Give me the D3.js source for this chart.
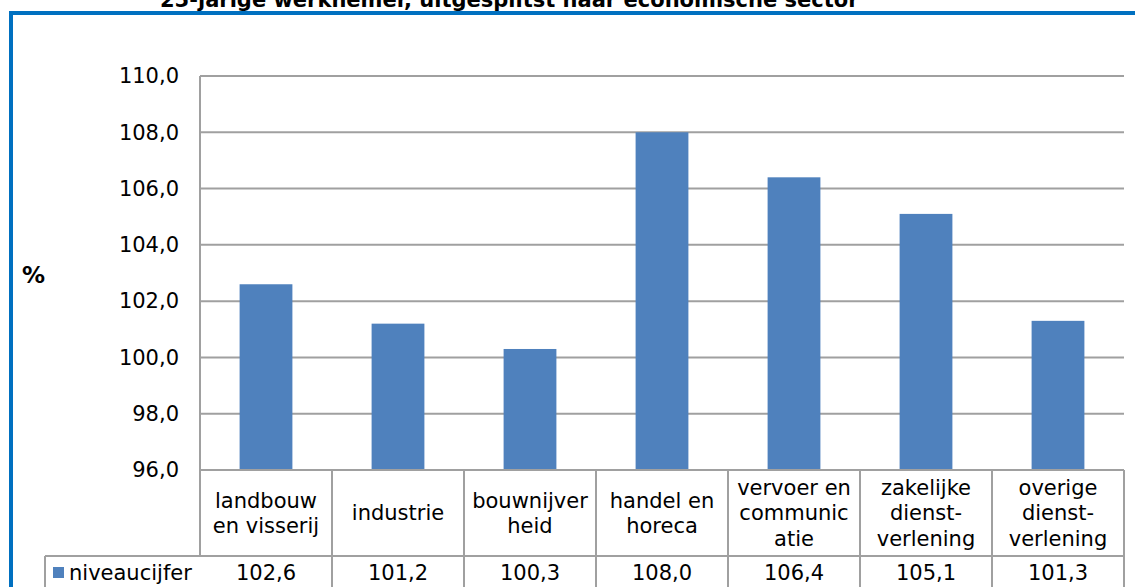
<!DOCTYPE html>
<html>
<head>
<meta charset="utf-8">
<script src="https://cdn.jsdelivr.net/npm/d3@7"></script>
<style>
  body { margin: 0; background: #fff; }
  svg { display: block; font-family: "DejaVu Sans", Verdana, sans-serif; }
</style>
</head>
<body>
<div id="chart"></div>
<script>
const categories = [
    ["landbouw", "en visserij"],
    ["industrie"],
    ["bouwnijver", "heid"],
    ["handel en", "horeca"],
    ["vervoer en", "communic", "atie"],
    ["zakelijke", "dienst-", "verlening"],
    ["overige", "dienst-", "verlening"]
];
const values = [102.6, 101.2, 100.3, 108.0, 106.4, 105.1, 101.3];
const seriesName = "niveaucijfer";
const yTicks = [96, 98, 100, 102, 104, 106, 108, 110];
const title = "25-jarige werknemer, uitgesplitst naar economische sector";

const width = 1135;
const height = 587;
const plot = { left: 200, right: 1124, top: 76, bottom: 470 };
const catRowBottom = 556;
const valRowBottom = 590;
const legendLeft = 45;
const gridColor = "#a0a0a0";
const barColor = "#4f81bd";
const fontSize = "21px";

const svg = d3.select("#chart")
    .append("svg")
    .attr("width", width)
    .attr("height", height);

// outer blue frame (partly off the page)
svg.append("rect")
    .attr("x", 11)
    .attr("y", 13)
    .attr("width", width + 20)
    .attr("height", height + 20)
    .attr("fill", "none")
    .attr("stroke", "#0070c0")
    .attr("stroke-width", 4);

// title, cut off at the top like in the source
svg.append("text")
    .attr("x", 160)
    .attr("y", 7)
    .attr("font-size", "21px")
    .attr("font-weight", "bold")
    .text(title);

const keys = categories.map(c => c.join(" "));

const xScale = d3.scaleBand()
    .domain(keys)
    .range([plot.left, plot.right])
    .paddingInner(0.6)
    .paddingOuter(0.3);

const yScale = d3.scaleLinear()
    .domain([96, 110])
    .range([plot.bottom, plot.top]);

// gridlines
svg.append("g")
    .selectAll("line")
    .data(yTicks)
    .join("line")
    .attr("x1", plot.left)
    .attr("x2", plot.right)
    .attr("y1", d => yScale(d))
    .attr("y2", d => yScale(d))
    .attr("stroke", gridColor)
    .attr("stroke-width", 2);

// y axis labels
const yAxis = svg.append("g")
    .attr("transform", `translate(${plot.left}, 0)`)
    .call(d3.axisLeft(yScale)
        .tickValues(yTicks)
        .tickSize(0)
        .tickPadding(21)
        .tickFormat(d => d.toFixed(1).replace(".", ",")));
yAxis.select(".domain").remove();
yAxis.selectAll("text")
    .attr("font-size", fontSize)
    .attr("font-family", "DejaVu Sans, Verdana, sans-serif")
    .attr("fill", "#000");

svg.append("line")
    .attr("x1", plot.left).attr("x2", plot.left)
    .attr("y1", plot.top).attr("y2", catRowBottom)
    .attr("stroke", gridColor).attr("stroke-width", 2);

svg.append("text")
    .attr("x", 22)
    .attr("y", 275)
    .attr("dy", "0.35em")
    .attr("font-size", "23px")
    .attr("font-weight", "bold")
    .text("%");

// bars
svg.append("g")
    .selectAll("rect")
    .data(values)
    .join("rect")
    .attr("x", (d, i) => xScale(keys[i]))
    .attr("width", xScale.bandwidth())
    .attr("y", d => yScale(d))
    .attr("height", d => yScale(96) - yScale(d))
    .attr("fill", barColor);

// data table under the plot
const step = xScale.step();
const colEdges = d3.range(keys.length + 1).map(i => plot.left + i * step);

const table = svg.append("g")
    .attr("stroke", gridColor)
    .attr("stroke-width", 2);

table.append("line")
    .attr("x1", plot.left).attr("x2", plot.right)
    .attr("y1", plot.bottom).attr("y2", plot.bottom);
table.append("line")
    .attr("x1", legendLeft).attr("x2", plot.right)
    .attr("y1", catRowBottom).attr("y2", catRowBottom);
table.append("line")
    .attr("x1", legendLeft).attr("x2", legendLeft)
    .attr("y1", catRowBottom).attr("y2", valRowBottom);
table.selectAll(".sep")
    .data(colEdges.slice(1))
    .join("line")
    .attr("class", "sep")
    .attr("x1", d => d).attr("x2", d => d)
    .attr("y1", plot.bottom).attr("y2", valRowBottom);

const catMid = (plot.bottom + catRowBottom) / 2;
const lineH = 25.5;

categories.forEach((lines, i) => {
    const cx = xScale(keys[i]) + xScale.bandwidth() / 2;
    const t = svg.append("text")
        .attr("text-anchor", "middle")
        .attr("font-size", fontSize);
    lines.forEach((ln, j) => {
        t.append("tspan")
            .attr("x", cx)
            .attr("y", catMid + (j - (lines.length - 1) / 2) * lineH)
            .attr("dy", "0.35em")
            .text(ln);
    });
});

const valMid = 573;
svg.append("g")
    .selectAll("text")
    .data(values)
    .join("text")
    .attr("x", (d, i) => xScale(keys[i]) + xScale.bandwidth() / 2)
    .attr("y", valMid)
    .attr("dy", "0.35em")
    .attr("text-anchor", "middle")
    .attr("font-size", fontSize)
    .text(d => d.toFixed(1).replace(".", ","));

// legend key
svg.append("rect")
    .attr("x", 53)
    .attr("y", 567)
    .attr("width", 11)
    .attr("height", 11)
    .attr("fill", barColor);
svg.append("text")
    .attr("x", 69)
    .attr("y", valMid)
    .attr("dy", "0.35em")
    .attr("font-size", fontSize)
    .text(seriesName);
</script>
</body>
</html>
